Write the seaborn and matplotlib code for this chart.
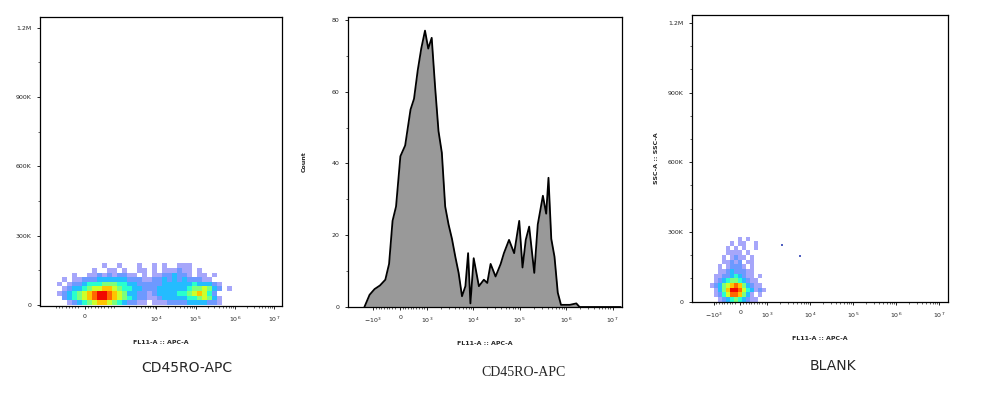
import matplotlib
matplotlib.use("Agg")
import matplotlib.pyplot as plt
import seaborn as sns
import numpy as np
import pandas as pd
from matplotlib.ticker import FixedLocator, FixedFormatter

# --- data ---------------------------------------------------------------
# panel 1: CD45RO-APC density (rows top->bottom, 20K per row, 0..180K; digit = density level)
p1_rows = [
    "..........1..1...1..1.1..111........",
    "........1..11.1..11.1.111211.1......",
    "....1..1121212211.1.11223221.11.1...",
    "..1.1122233333322211223232322211....",
    ".1.1223444555443322222333333433321..",
    "..12334566776544332223333334556532.1",
    ".12345678998765332212333344567642...",
    "..23456789987654322112333334456531..",
    "...1234567765432211.11122223333221..",
]
p1_row_step = 20000

# panel 2: CD45RO-APC histogram (FL11-A value, count)
hist_x = [-1550, -1200, -950, -750, -550, -410, -280, -150, 12, 190, 390, 520, 660, 790,
          930, 1070, 1270, 1510, 1780, 2100, 2480, 2930, 3470, 4100, 4830, 5710, 6760,
          7730, 8670, 10200, 13200, 16900, 20000, 23600, 30200, 38900, 45700, 58900,
          75900, 97700, 115000, 135000, 160000, 206000, 245000, 316000, 372000, 417000,
          479000, 562000, 661000, 776000, 1200000, 1660000, 1950000, 15000000]
hist_y = [0, 3.4, 5, 6, 7.6, 12, 24, 28, 42, 45, 55, 58, 66, 72,
          77, 72, 75, 61, 49, 43, 28, 23, 19, 14, 9.5, 3, 5.8,
          15, 1, 13.6, 5.8, 7.6, 6.7, 12, 8.5, 12, 15, 18.7,
          15, 24, 11, 18.7, 22.4, 9.5, 23, 31, 26, 36,
          19, 14, 4, 0.6, 0.6, 1, 0, 0]

# panel 3: BLANK density (rows top->bottom, 20K per row, 0..280K)
p3_rows = [
    "........1.1.....",
    "......1.11..1...",
    ".....1.1.1..1...",
    ".....1111.1.....",
    "....1.1211.1....",
    "....11212.11....",
    "...1.12221.1....",
    "...112322211....",
    "..1122343211.1..",
    "..12345543211...",
    ".1235678753211..",
    "..1357998643121.",
    "..1246887531.1..",
    "...1234543211...",
]
p3_row_step = 20000
p3_out_x = [2200, 5900]
p3_out_y = [245000, 194000]

captions = ["CD45RO-APC", "CD45RO-APC", "BLANK"]
xlab = "FL11-A :: APC-A"

# --- figure -------------------------------------------------------------
sns.set_style("white")
plt.rcParams["font.family"] = ["DejaVu Sans"]
fig = plt.figure(figsize=(10, 4), dpi=100)
H = 400

def make_ax(left, right, top, bottom):
    return fig.add_axes([left / 1000, 1 - bottom / H, (right - left) / 1000, (bottom - top) / H])

ax1 = make_ax(40, 282, 17, 306)
ax2 = make_ax(348, 622, 17, 307)
ax3 = make_ax(692, 948, 15, 302)

def style_x(ax, linscale, xlim, labels):
    ax.set_xscale("symlog", linthresh=1000, linscale=linscale)
    ax.set_xlim(*xlim)
    major = [-1e3, 0, 1e3, 1e4, 1e5, 1e6, 1e7]
    names = ["$-10^3$", "0", "$10^3$", "$10^4$", "$10^5$", "$10^6$", "$10^7$"]
    keep = [i for i, n in enumerate(names) if n in labels]
    ax.xaxis.set_major_locator(FixedLocator([major[i] for i in keep]))
    ax.xaxis.set_major_formatter(FixedFormatter([names[i] for i in keep]))
    minor = [-s * 100 for s in range(2, 10)] + [s * 100 for s in range(1, 10)]
    for d in [3, 4, 5, 6]:
        minor += [s * 10 ** d for s in range(2, 10)]
    ax.xaxis.set_minor_locator(FixedLocator(minor))
    ax.set_xlabel(xlab, fontsize=4.5, fontweight="bold", labelpad=12)

def finish(ax):
    for s in ax.spines.values():
        s.set_visible(True)
        s.set_color("black")
        s.set_linewidth(0.9)
    ax.tick_params(which="both", direction="out", bottom=True, left=True, labelsize=4.5)
    ax.tick_params(which="major", length=2.5, width=0.7)
    ax.tick_params(which="minor", length=1.5, width=0.5)
    ax.grid(False)

def density(ax, rows, step, px_left, px_w):
    mat = np.array([[int(c) if c != "." else np.nan for c in r] for r in rows[::-1]], dtype=float)
    ncol = mat.shape[1]
    inv = ax.transData.inverted()
    x_edges = [inv.transform((px_left + px_w * i, 0))[0] for i in range(ncol + 1)]
    y_edges = [step * i for i in range(mat.shape[0] + 1)]
    # sparse cells look like scattered dots in the original, so fade them
    alpha = np.where(np.isnan(mat), 0.0, np.clip(np.nan_to_num(mat) / 3.5, 0.35, 1.0))
    ax.pcolormesh(x_edges, y_edges, mat, cmap="jet", vmin=0, vmax=10, shading="flat",
                  alpha=alpha, lw=0)

# panel 1
style_x(ax1, 0.74, (-2100, 1.58e7), ["0", "$10^4$", "$10^5$", "$10^6$", "$10^7$"])
ax1.set_ylim(-5000, 1.247e6)
ax1.yaxis.set_major_locator(FixedLocator([0, 3e5, 6e5, 9e5, 1.2e6]))
ax1.yaxis.set_major_formatter(FixedFormatter(["0", "300K", "600K", "900K", "1.2M"]))
ax1.yaxis.set_minor_locator(FixedLocator([1.5e5, 4.5e5, 7.5e5, 1.05e6]))
fig.canvas.draw()
density(ax1, p1_rows, p1_row_step, 52, 5)
finish(ax1)

# panel 2
style_x(ax2, 0.52, (-3500, 1.6e7), ["$-10^3$", "0", "$10^3$", "$10^4$", "$10^5$", "$10^6$", "$10^7$"])
ax2.set_ylim(0, 80.8)
hist_df = pd.DataFrame({"x": hist_x, "count": hist_y})
ax2.fill_between(hist_df["x"], hist_df["count"], color="#999999", lw=0)
sns.lineplot(data=hist_df, x="x", y="count", ax=ax2, color="black", lw=1.3, sort=False)
ax2.set_xlabel(xlab, fontsize=4.5, fontweight="bold", labelpad=12)
ax2.set_ylabel("Count", fontsize=4.5, fontweight="bold", labelpad=18)
ax2.yaxis.set_major_locator(FixedLocator([0, 20, 40, 60, 80]))
ax2.yaxis.set_minor_locator(FixedLocator([10, 30, 50, 70]))
finish(ax2)

# panel 3
style_x(ax3, 0.56, (-3200, 1.6e7), ["$-10^3$", "0", "$10^3$", "$10^4$", "$10^5$", "$10^6$", "$10^7$"])
ax3.set_ylim(-2000, 1.234e6)
ax3.yaxis.set_major_locator(FixedLocator([0, 3e5, 6e5, 9e5, 1.2e6]))
ax3.yaxis.set_major_formatter(FixedFormatter(["0", "300K", "600K", "900K", "1.2M"]))
ax3.yaxis.set_minor_locator(FixedLocator([1e5, 2e5, 4e5, 5e5, 7e5, 8e5, 1e6, 1.1e6]))
ax3.set_ylabel("SSC-A :: SSC-A", fontsize=4.5, fontweight="bold", labelpad=6)
fig.canvas.draw()
density(ax3, p3_rows, p3_row_step, 706, 4)
ax3.scatter(p3_out_x, p3_out_y, s=2, marker="s", color="#5060c0", lw=0)
finish(ax3)

fig.text(0.187, 1 - 368 / H, captions[0], ha="center", va="center", fontsize=10)
fig.text(0.523, 1 - 372 / H, captions[1], ha="center", va="center", fontsize=10,
         family=["Liberation Serif"])
fig.text(0.833, 1 - 366 / H, captions[2], ha="center", va="center", fontsize=10)

fig.savefig("out.png", dpi=100)
